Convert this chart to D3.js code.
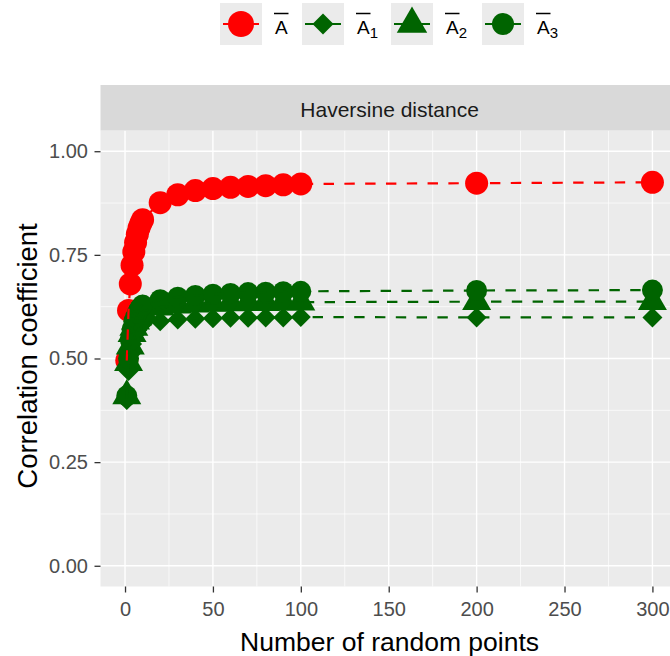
<!DOCTYPE html>
<html>
<head>
<meta charset="utf-8">
<script src="https://cdn.jsdelivr.net/npm/d3@7"></script>
<style>
  body { margin: 0; background: #fff; }
  text { font-family: "Liberation Sans", Arial, sans-serif; }
</style>
</head>
<body>
<script>
// Values
var nPoints = [1, 2, 3, 4, 5, 6, 7, 8, 9, 10, 20, 30, 40, 50, 60, 70, 80, 90, 100, 200, 300];
var meanA  = [0.495, 0.616, 0.68, 0.725, 0.757, 0.78, 0.80, 0.815, 0.826, 0.835, 0.876, 0.895, 0.905, 0.910, 0.913, 0.915, 0.917, 0.919, 0.921, 0.923, 0.925];
var meanA1 = [0.40, 0.47, 0.51, 0.535, 0.55, 0.56, 0.568, 0.575, 0.58, 0.583, 0.590, 0.594, 0.596, 0.597, 0.598, 0.598, 0.599, 0.599, 0.600, 0.599, 0.599];
var meanA2 = [0.41, 0.49, 0.53, 0.56, 0.575, 0.59, 0.60, 0.605, 0.61, 0.614, 0.624, 0.629, 0.631, 0.633, 0.634, 0.635, 0.635, 0.636, 0.636, 0.637, 0.637];
var meanA3 = [0.41, 0.50, 0.545, 0.57, 0.59, 0.60, 0.61, 0.618, 0.624, 0.629, 0.642, 0.648, 0.652, 0.655, 0.657, 0.659, 0.660, 0.661, 0.662, 0.664, 0.665];
var xTicks = [0, 50, 100, 150, 200, 250, 300];
var yTicks = [0, 0.25, 0.5, 0.75, 1];
var xMinor = [25, 75, 125, 175, 225, 275];
var yMinor = [0.125, 0.375, 0.625, 0.875];
var legendSubs = ["", "1", "2", "3"];
var stripLabel = "Haversine distance";
var xTitle = "Number of random points";
var yTitle = "Correlation coefficient";

var width = 670, height = 656;
var panel = {left: 100.5, right: 678.7, top: 130.5, bottom: 586.5};

var svg = d3.select("body").append("svg")
  .attr("width", width)
  .attr("height", height);

svg.append("rect")
  .attr("width", width)
  .attr("height", height)
  .attr("fill", "#fff");

// Scales, with the 5% padding that ggplot adds
var xSpan = d3.max(nPoints) - d3.min(nPoints);
var x = d3.scaleLinear()
  .domain([d3.min(nPoints) - 0.05 * xSpan, d3.max(nPoints) + 0.05 * xSpan])
  .range([panel.left, panel.right]);
var y = d3.scaleLinear()
  .domain([-0.05, 1.05])
  .range([panel.bottom, panel.top]);

// Panel background and grid
svg.append("rect")
  .attr("x", panel.left)
  .attr("y", panel.top)
  .attr("width", panel.right - panel.left)
  .attr("height", panel.bottom - panel.top)
  .attr("fill", "#EBEBEB");

var grid = svg.append("g");
grid.selectAll(".xminor").data(xMinor).enter().append("line")
  .attr("x1", x).attr("x2", x)
  .attr("y1", panel.top).attr("y2", panel.bottom)
  .attr("stroke", "#fff").attr("stroke-width", 0.7);
grid.selectAll(".yminor").data(yMinor).enter().append("line")
  .attr("y1", y).attr("y2", y)
  .attr("x1", panel.left).attr("x2", panel.right)
  .attr("stroke", "#fff").attr("stroke-width", 0.7);
grid.selectAll(".xmajor").data(xTicks).enter().append("line")
  .attr("x1", x).attr("x2", x)
  .attr("y1", panel.top).attr("y2", panel.bottom)
  .attr("stroke", "#fff").attr("stroke-width", 1.4);
grid.selectAll(".ymajor").data(yTicks).enter().append("line")
  .attr("y1", y).attr("y2", y)
  .attr("x1", panel.left).attr("x2", panel.right)
  .attr("stroke", "#fff").attr("stroke-width", 1.4);

// Facet strip
svg.append("rect")
  .attr("x", panel.left)
  .attr("y", 85)
  .attr("width", panel.right - panel.left)
  .attr("height", panel.top - 85)
  .attr("fill", "#D9D9D9");
svg.append("text")
  .attr("x", (panel.left + panel.right) / 2)
  .attr("y", 117)
  .attr("text-anchor", "middle")
  .attr("font-size", 21)
  .attr("fill", "#1A1A1A")
  .text(stripLabel);

// Series
var series = [
  {values: meanA,  color: "#FF0000", shape: "circle",   size: 11.5},
  {values: meanA1, color: "#006400", shape: "diamond",  size: 10},
  {values: meanA2, color: "#006400", shape: "triangle", size: 29},
  {values: meanA3, color: "#006400", shape: "circle",   size: 10.5}
];

function shapePath(shape, s) {
  if (shape === "circle") {
    return d3.symbol(d3.symbolCircle, Math.PI * s * s)();
  } else if (shape === "diamond") {
    return "M0," + (-s) + "L" + s + ",0L0," + s + "L" + (-s) + ",0Z";
  } else {
    return d3.symbol(d3.symbolTriangle, Math.sqrt(3) / 4 * s * s)();
  }
}

var plot = svg.append("g");

series.forEach(function(ser) {
  plot.selectAll(null)
    .data(nPoints)
    .enter().append("path")
    .attr("transform", function(d, i) {
      return "translate(" + x(d) + "," + y(ser.values[i]) + ")";
    })
    .attr("d", shapePath(ser.shape, ser.size))
    .attr("fill", ser.color);
});

var line = d3.line()
  .x(function(d) { return x(d[0]); })
  .y(function(d) { return y(d[1]); });

series.forEach(function(ser) {
  plot.append("path")
    .datum(nPoints.map(function(d, i) { return [d, ser.values[i]]; }))
    .attr("d", line)
    .attr("fill", "none")
    .attr("stroke", ser.color)
    .attr("stroke-width", 2.2)
    .attr("stroke-dasharray", "10.4,10.4");
});

// Axes
var yAxis = svg.append("g")
  .attr("transform", "translate(" + panel.left + ",0)")
  .call(d3.axisLeft(y).tickValues(yTicks).tickFormat(d3.format(".2f")).tickSize(6).tickPadding(6.5));
var xAxis = svg.append("g")
  .attr("transform", "translate(0," + panel.bottom + ")")
  .call(d3.axisBottom(x).tickValues(xTicks).tickSize(6).tickPadding(9));

[xAxis, yAxis].forEach(function(ax) {
  ax.select(".domain").remove();
  ax.selectAll(".tick line").attr("stroke", "#333333").attr("stroke-width", 1.3);
  ax.selectAll(".tick text")
    .attr("fill", "#4D4D4D")
    .attr("font-size", 20)
    .style("font-family", "'Liberation Sans', Arial, sans-serif");
});

// Axis titles
svg.append("text")
  .attr("x", (panel.left + panel.right) / 2)
  .attr("y", 651)
  .attr("text-anchor", "middle")
  .attr("font-size", 26.5)
  .attr("fill", "#000")
  .text(xTitle);
svg.append("text")
  .attr("transform", "translate(37,356) rotate(-90)")
  .attr("text-anchor", "middle")
  .attr("font-size", 27.5)
  .attr("fill", "#000")
  .text(yTitle);

// Legend
var keyX = [220, 302, 391, 482];
var legend = svg.append("g");

series.forEach(function(ser, i) {
  var key = legend.append("g").attr("transform", "translate(" + keyX[i] + ",3)");
  key.append("rect")
    .attr("width", 42).attr("height", 42)
    .attr("fill", "#EBEBEB");
  key.append("line")
    .attr("x1", 3).attr("x2", 39)
    .attr("y1", 21).attr("y2", 21)
    .attr("stroke", ser.color)
    .attr("stroke-width", 2.2);
  key.append("path")
    .attr("transform", "translate(21,21)")
    .attr("d", shapePath(ser.shape, i === 0 ? 13 : ser.size * 1.05))
    .attr("fill", ser.color);

  var label = key.append("text")
    .attr("x", 55)
    .attr("y", 31)
    .attr("font-size", 19)
    .attr("fill", "#000");
  label.append("tspan").text("A");
  if (legendSubs[i]) {
    label.append("tspan")
      .attr("dy", 4)
      .attr("font-size", 15)
      .text(legendSubs[i]);
  }
  key.append("line")
    .attr("x1", 54).attr("x2", 68.5)
    .attr("y1", 10.5).attr("y2", 10.5)
    .attr("stroke", "#000")
    .attr("stroke-width", 1.5);
});
</script>
</body>
</html>
